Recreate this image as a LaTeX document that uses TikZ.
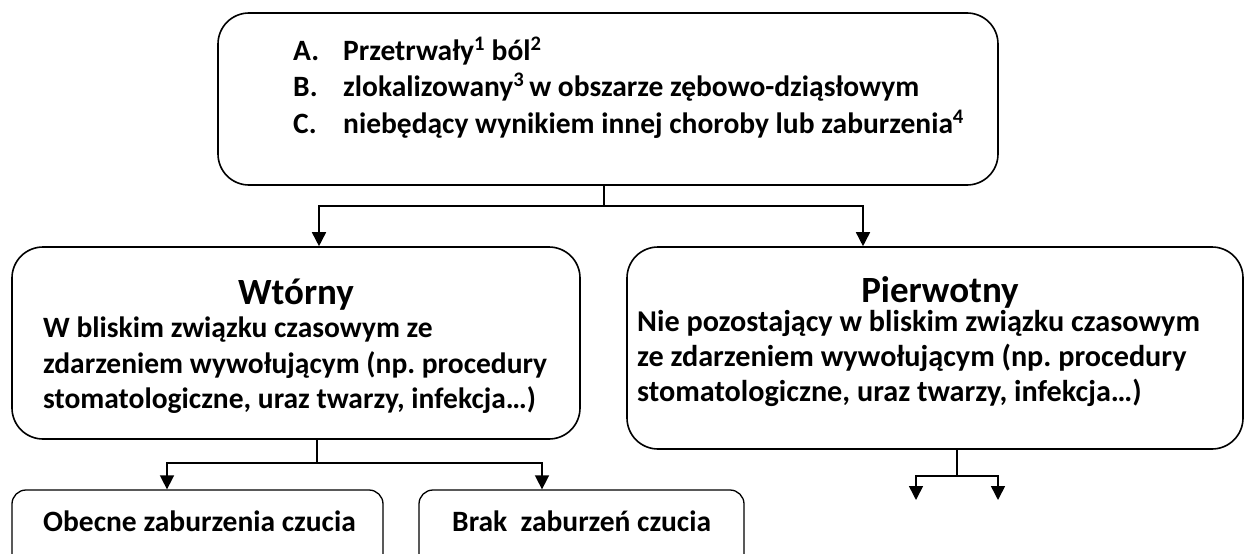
\documentclass[tikz,border=0pt]{standalone}
\usepackage{fontspec}
\setmainfont{Carlito}
\usetikzlibrary{arrows.meta,positioning}
\frenchspacing

\tikzset{
	ramka/.style={draw, line width=1.6pt, rounded corners=31pt, inner sep=0pt},
	ramkamala/.style={draw, line width=1.3pt, rounded corners=14pt, inner sep=0pt},
	linia/.style={line width=1.6pt},
	strzalka/.style={line width=1.6pt, -{Triangle[length=14pt,width=14pt]}},
	tekst/.style={inner sep=0pt, anchor=base west, font=\fontsize{29.5}{35}\selectfont\bfseries},
	tekstp/.style={tekst, font=\fontsize{30.2}{35}\selectfont\bfseries},
	tytul/.style={inner sep=0pt, anchor=base, font=\fontsize{37}{44}\selectfont\bfseries}
}

\begin{document}
\begin{tikzpicture}[x=1pt,y=-1pt]
	\useasboundingbox (0,0) rectangle (1245,554);

	% ramki
	\node[ramka, minimum width=780pt, minimum height=172pt] (kryteria) at (608,99) {};
	\node[ramka, minimum width=568pt, minimum height=192pt] (wtorny) at (296,343) {};
	\node[ramka, minimum width=616pt, minimum height=202pt] (pierwotny) at (935,348) {};
	\node[ramkamala, minimum width=371pt, minimum height=120pt] (obecne) at (197.5,550) {};
	\node[ramkamala, minimum width=325pt, minimum height=120pt] (brak) at (581.5,550) {};

	% kryteria A-C
	\node[tekst] (lit-a) at (293,60) {A.};
	\node[tekst] (kryt-a) at (343,60) {Przetrwały\textsuperscript{1} ból\textsuperscript{2}};
	\node[tekst] (lit-b) at (293,96) {B.};
	\node[tekst] (kryt-b) at (343,96) {zlokalizowany\textsuperscript{3}\,w obszarze zębowo-dziąsłowym};
	\node[tekst] (lit-c) at (293,133) {C.};
	\node[tekst] (kryt-c) at (343,133) {niebędący wynikiem innej choroby lub zaburzenia\textsuperscript{4}};

	% wtorny
	\node[tytul] (wtorny-tytul) at (296,304) {Wtórny};
	\node[tekst] (wtorny-1) at (43,337) {W bliskim związku czasowym ze};
	\node[tekst] (wtorny-2) at (43,373) {zdarzeniem wywołującym (np. procedury};
	\node[tekst] (wtorny-3) at (43,408) {stomatologiczne, uraz twarzy, infekcja…)};

	% pierwotny
	\node[tytul] (pierwotny-tytul) at (940,302) {Pierwotny};
	\node[tekstp] (pierwotny-1) at (637,331) {Nie pozostający w bliskim związku czasowym};
	\node[tekstp] (pierwotny-2) at (637,366) {ze zdarzeniem wywołującym (np. procedury};
	\node[tekstp] (pierwotny-3) at (637,401) {stomatologiczne, uraz twarzy, infekcja…)};

	\node[tekst] (obecne-tekst) at (43,531) {Obecne zaburzenia czucia};
	\node[tekst] (brak-tekst) at (452,531) {Brak\ \ zaburzeń czucia};

	% polaczenia
	\coordinate (rozg) at (604,206);
	\draw[linia] (kryteria.south -| rozg) -- (rozg);
	\draw[strzalka] (rozg) -| ([xshift=23pt]wtorny.north);
	\draw[strzalka] (rozg) -| ([xshift=-72pt]pierwotny.north);

	\coordinate (rozg-w) at (317,463);
	\draw[linia] (wtorny.south -| rozg-w) -- (rozg-w);
	\draw[strzalka] (rozg-w) -| ([xshift=-30.5pt]obecne.north);
	\draw[strzalka] (rozg-w) -| ([xshift=-39.5pt]brak.north);

	\coordinate (rozg-p) at (957,476);
	\coordinate (pierw-l) at (916,500);
	\coordinate (pierw-p) at (998,500);
	\draw[linia] (pierwotny.south -| rozg-p) -- (rozg-p);
	\draw[strzalka] (rozg-p) -| (pierw-l);
	\draw[strzalka] (rozg-p) -| (pierw-p);

\end{tikzpicture}
\end{document}
